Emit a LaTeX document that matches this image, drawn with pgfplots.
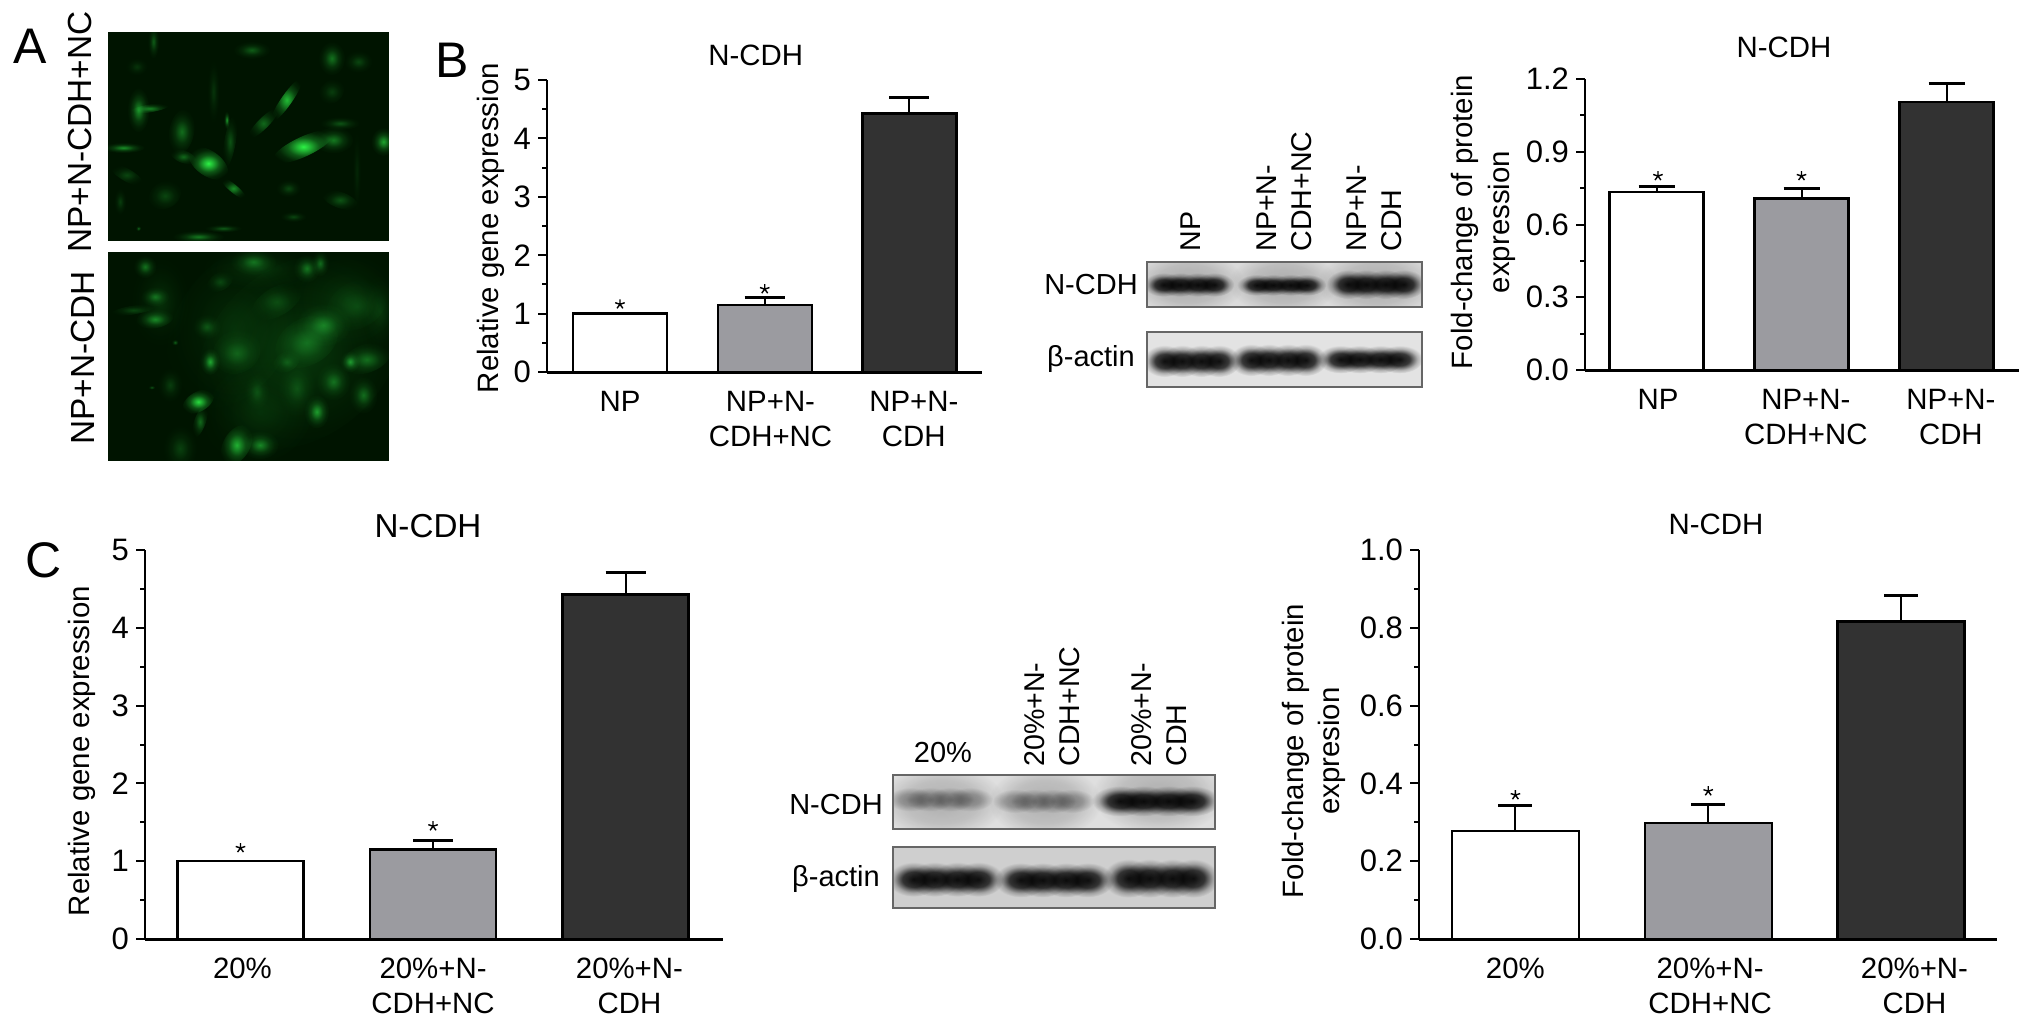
\documentclass[border=0pt]{standalone}
\usepackage{pgfplots}
\pgfplotsset{compat=1.18}
\usepackage{fontspec}
\setmainfont{Liberation Sans}
\definecolor{glow}{RGB}{45,240,70}
\definecolor{midgray}{RGB}{155,155,160}
\definecolor{darkbar}{RGB}{50,50,50}
\definecolor{imgbg}{RGB}{0,20,0}
\definecolor{gcol}{RGB}{45,240,70}
\pgfdeclareradialshading[gcol]{soft}{\pgfpoint{0bp}{0bp}}{color(0bp)=(gcol);color(5bp)=(gcol!72!black);color(12bp)=(gcol!30!black);color(19bp)=(gcol!8!black);color(25bp)=(black);color(50bp)=(black)}
\pgfdeclareradialshading{bandsoft}{\pgfpoint{0bp}{0bp}}{color(0bp)=(black!92!white);color(11bp)=(black!75!white);color(19bp)=(black!22!white);color(25bp)=(white);color(50bp)=(white)}
\pgfdeclareradialshading{bandlight}{\pgfpoint{0bp}{0bp}}{color(0bp)=(black!32!white);color(12bp)=(black!24!white);color(25bp)=(white);color(50bp)=(white)}
\pgfdeclareradialshading{haze}{\pgfpoint{0bp}{0bp}}{color(0bp)=(black!22!white);color(15bp)=(black!14!white);color(25bp)=(white);color(50bp)=(white)}
% #1 x, #2 y, #3 rx, #4 ry, #5 angle, #6 brightness
\newcommand{\gb}[6]{\colorlet{gcol}{glow!#6!black}\shade[shading=soft,blend mode=screen,shift={(#1,#2)},rotate=#5] (0,0) ellipse [x radius={#3*1.35},y radius={#4*1.35}];}
% #1 shading, #2 x, #3 y, #4 rx, #5 ry
\newcommand{\bb}[5]{\shade[shading=#1,blend mode=multiply,shift={(#2,#3)}] (0,0) ellipse [x radius=#4,y radius=#5];}
% #1 shading, #2 x0, #3 x1, #4 y, #5 ry
\newcommand{\band}[5]{\foreach \t in {0.16,0.38,0.62,0.84}{\pgfmathsetmacro{\xc}{#2+\t*(#3-#2)}\pgfmathsetmacro{\rx}{0.27*(#3-#2)}\bb{#1}{\xc}{#4}{\rx}{#5}}}
\pgfplotsset{
  panel/.style={
    scale only axis, anchor=south west,
    axis x line=bottom, axis y line=left,
    x axis line style={-,line width=1.5pt},
    y axis line style={-,line width=1pt},
    ymin=0, tick align=outside,
    xtick style={draw=none},
    ytick style={line width=1pt,black},
    minor y tick num=1,
    /pgf/number format/assume math mode=true,
    scaled y ticks=false,
    every axis title shift=0pt,
    yticklabel style={font=\fontsize{15.5}{18}\selectfont},
    xticklabel style={font=\fontsize{14.7}{17.5}\selectfont,align=center,inner sep=0pt,yshift=-5pt},
    title style={font=\fontsize{14.7}{17.5}\selectfont,anchor=center},
    ylabel style={font=\fontsize{14.7}{18.5}\selectfont,anchor=center,align=center},
    major tick length=4.5pt, minor tick length=2.5pt,
  },
  vb/.style={ybar,bar shift=0pt,draw=black,line width=1.2pt},
  err/.style={error bars/.cd,y dir=plus,y explicit,error mark=|,error bar style={line width=1pt,black},
    error mark options={line width=1.5pt,mark size=#1,black}},
  stars/.style={only marks,mark=star,mark size=2.5pt,mark options={black,line width=.7pt}},
}
\begin{document}
\begin{tikzpicture}
\path[use as bounding box] (0,0) rectangle (1016pt,-512.5pt);
\begin{scope}[x=0.5pt,y=-0.5pt]
% panel A images
\fill[imgbg] (108,32) rectangle (389,241);
\begin{scope}
\clip (108.6,32.6) rectangle (388.4,240.4);
\begin{scope}[shift={(100,25)},x=0.16667pt,y=-0.16667pt]
\gb{610}{365}{75}{22}{25}{100}\gb{325}{415}{50}{28}{-35}{100}\gb{560}{225}{60}{12}{55}{75}
\gb{115}{255}{25}{50}{0}{55}\gb{150}{250}{45}{9}{10}{50}\gb{245}{320}{28}{50}{-10}{40}
\gb{70}{368}{48}{12}{0}{55}\gb{380}{285}{7}{20}{0}{60}\gb{400}{490}{38}{9}{-40}{55}
\gb{490}{295}{48}{12}{45}{38}\gb{700}{345}{45}{30}{0}{45}\gb{720}{295}{45}{15}{0}{28}
\gb{850}{350}{28}{32}{0}{65}\gb{695}{100}{30}{38}{0}{42}\gb{455}{75}{42}{20}{0}{32}
\gb{775}{110}{32}{25}{0}{22}\gb{160}{50}{13}{38}{0}{32}\gb{295}{635}{58}{14}{0}{45}
\gb{370}{610}{42}{9}{0}{32}\gb{250}{395}{30}{14}{-20}{38}\gb{390}{350}{13}{60}{-10}{28}
\gb{720}{525}{42}{18}{-20}{28}\gb{565}{490}{28}{20}{0}{22}\gb{195}{510}{38}{30}{30}{22}
\gb{80}{450}{42}{14}{-30}{22}\gb{580}{575}{30}{12}{0}{22}\gb{695}{200}{30}{25}{40}{18}
\gb{340}{200}{14}{70}{0}{14}\gb{110}{125}{25}{20}{0}{14}\gb{60}{530}{14}{30}{0}{18}
\gb{115}{610}{6}{6}{0}{40}\gb{770}{440}{10}{90}{0}{8}
\end{scope}
\end{scope}
\fill[imgbg] (108,252) rectangle (389,461);
\begin{scope}
\clip (108.6,252.6) rectangle (388.4,460.4);
\begin{scope}[shift={(100,245)},x=0.16667pt,y=-0.16667pt]
% broad diffuse glow along the diagonal
\gb{600}{320}{250}{190}{40}{16}\gb{400}{250}{130}{190}{-30}{10}\gb{480}{500}{130}{110}{40}{10}
\gb{740}{150}{120}{110}{30}{10}\gb{480}{70}{130}{55}{0}{12}\gb{180}{170}{65}{100}{0}{12}
\gb{295}{470}{38}{22}{30}{90}\gb{330}{350}{22}{30}{0}{65}\gb{410}{600}{30}{48}{-30}{70}
\gb{480}{600}{42}{32}{0}{50}\gb{650}{500}{28}{38}{0}{60}\gb{750}{350}{22}{24}{0}{55}
\gb{670}{240}{62}{48}{0}{42}\gb{620}{290}{75}{52}{30}{32}\gb{800}{340}{55}{32}{20}{38}
\gb{165}{220}{42}{22}{10}{50}\gb{165}{155}{32}{22}{0}{38}\gb{135}{65}{26}{26}{0}{42}
\gb{620}{70}{30}{32}{0}{42}\gb{660}{55}{20}{30}{0}{38}\gb{460}{50}{52}{30}{0}{38}
\gb{790}{450}{32}{42}{0}{38}\gb{700}{410}{38}{42}{0}{38}\gb{410}{320}{55}{48}{30}{28}
\gb{320}{245}{32}{28}{0}{26}\gb{530}{170}{62}{32}{30}{20}\gb{360}{110}{32}{20}{30}{20}
\gb{770}{180}{72}{52}{30}{16}\gb{300}{530}{13}{38}{-20}{38}\gb{240}{610}{38}{52}{0}{20}
\gb{560}{350}{32}{22}{30}{22}\gb{470}{440}{28}{42}{0}{20}\gb{210}{420}{28}{38}{0}{18}
\gb{225}{292}{8}{7}{0}{35}\gb{155}{427}{8}{5}{0}{30}\gb{100}{195}{52}{10}{10}{22}
\gb{590}{430}{42}{62}{0}{20}\gb{840}{200}{42}{82}{0}{12}
\end{scope}
\end{scope}
% blots B
\begin{scope}
\clip (1147,262) rectangle (1422,307);
\fill[gray!28!white] (1147,262) rectangle (1422,307);
\begin{scope}[shift={(1140,250)},x=0.16667pt,y=-0.16667pt]
\bb{haze}{145}{100}{170}{95}\bb{haze}{430}{100}{165}{95}\bb{haze}{710}{100}{180}{100}
\band{bandsoft}{35}{258}{104}{36}
\band{bandsoft}{315}{535}{105}{32}
\band{bandsoft}{585}{830}{103}{44}
\end{scope}
\end{scope}
\draw[gray!80!black,line width=1pt] (1147,262) rectangle (1422,307);
\begin{scope}
\clip (1147,332) rectangle (1422,387);
\fill[gray!22!white] (1147,332) rectangle (1422,387);
\begin{scope}[shift={(1140,250)},x=0.16667pt,y=-0.16667pt]
\band{bandsoft}{35}{275}{333}{48}
\band{bandsoft}{295}{535}{330}{48}
\band{bandsoft}{560}{820}{328}{42}
\end{scope}
\end{scope}
\draw[gray!80!black,line width=1pt] (1147,332) rectangle (1422,387);
% blots C
\begin{scope}
\clip (893,775) rectangle (1215,829);
\fill[gray!25!white] (893,775) rectangle (1215,829);
\begin{scope}[shift={(885,765)},x=0.16667pt,y=-0.16667pt]
\bb{haze}{170}{110}{190}{110}\bb{haze}{480}{110}{170}{110}\bb{haze}{820}{90}{200}{120}
\band{bandlight}{35}{295}{103}{36}
\band{bandlight}{350}{600}{108}{36}
\band{bandsoft}{655}{970}{108}{46}
\end{scope}
\end{scope}
\draw[gray!80!black,line width=1pt] (893,775) rectangle (1215,829);
\begin{scope}
\clip (893,847) rectangle (1215,908);
\fill[gray!38!white] (893,847) rectangle (1215,908);
\begin{scope}[shift={(885,765)},x=0.16667pt,y=-0.16667pt]
\band{bandsoft}{40}{325}{343}{52}
\band{bandsoft}{360}{655}{345}{52}
\band{bandsoft}{685}{970}{340}{58}
\end{scope}
\end{scope}
\draw[gray!80!black,line width=1pt] (893,847) rectangle (1215,908);
% text
\node[font=\fontsize{25}{30}\selectfont,inner sep=0pt] at (30,46) {A};
\node[font=\fontsize{25}{30}\selectfont,inner sep=0pt] at (452,60) {B};
\node[font=\fontsize{25}{30}\selectfont,inner sep=0pt] at (44,560) {C};
\node[font=\fontsize{16.7}{20}\selectfont,inner sep=0pt,rotate=90] at (80,132) {NP+N-CDH+NC};
\node[font=\fontsize{16.7}{20}\selectfont,inner sep=0pt,rotate=90] at (83,358) {NP+N-CDH};
\tikzset{blot/.style={font=\fontsize{14.3}{17.5}\selectfont,inner sep=0pt,rotate=90,anchor=west,align=left}}
\node[blot] at (1191,252) {NP};
\node[blot] at (1284.5,252) {NP+N-\\CDH+NC};
\node[blot] at (1374,252) {NP+N-\\CDH};
\node[blot] at (1052,767) {20\%+N-\\CDH+NC};
\node[blot] at (1159,767) {20\%+N-\\CDH};
\tikzset{lab/.style={font=\fontsize{14.5}{17.5}\selectfont,inner sep=0pt}}
\node[lab] at (1091,285) {N-CDH};
\node[lab] at (1091,359) {β-actin};
\node[lab] at (836,804) {N-CDH};
\node[lab] at (836,879) {β-actin};
\node[lab] at (943,752) {20\%};
\end{scope}
% B1
\begin{axis}[panel,at={(273.5pt,-186pt)},width=217.5pt,height=146pt,
  xmin=-0.504,xmax=2.501,ymax=5,
  xtick={0,1.04,2.03},xticklabels={NP,{NP+N-\\CDH+NC},{NP+N-\\CDH}},
  ytick={0,1,2,3,4,5},
  title={N-CDH},title style={at={(0.48,1.0856)}},
  ylabel={Relative gene expression},ylabel style={at={(axis description cs:-0.1287,0.493)}}]
\addplot[vb,bar width=47pt,fill=white] coordinates {(0,1.0)};
\addplot[vb,bar width=47pt,fill=midgray,err=10pt] coordinates {(1,1.15) +- (0,0.13)};
\addplot[vb,bar width=47pt,fill=darkbar,err=10pt] coordinates {(2,4.43) +- (0,0.27)};
\addplot[stars] coordinates {(0,1.16) (1,1.42)};
\end{axis}
% B2
\begin{axis}[panel,at={(792.5pt,-185pt)},width=217pt,height=145.5pt,
  xmin=-0.493,xmax=2.5,ymax=1.2,
  xtick={0.01,1.03,2.03},xticklabels={NP,{NP+N-\\CDH+NC},{NP+N-\\CDH}},
  ytick={0,0.3,0.6,0.9,1.2},
  yticklabel style={/pgf/number format/fixed,/pgf/number format/fixed zerofill,/pgf/number format/precision=1},
  title={N-CDH},title style={at={(0.4585,1.110)}},
  ylabel={Fold-change of protein\\expression},ylabel style={at={(axis description cs:-0.235,0.5086)}}]
\addplot[vb,bar width=47pt,fill=white,err=9pt] coordinates {(0,0.734) +- (0,0.021)};
\addplot[vb,bar width=47pt,fill=midgray,err=9pt] coordinates {(1,0.708) +- (0,0.042)};
\addplot[vb,bar width=47pt,fill=darkbar,err=9pt] coordinates {(2,1.105) +- (0,0.075)};
\addplot[stars] coordinates {(0.01,0.80) (1,0.80)};
\end{axis}
% C1
\begin{axis}[panel,at={(72.5pt,-469.5pt)},width=289pt,height=194.5pt,
  xmin=-0.496,xmax=2.506,ymax=5,
  xtick={0.01,1,2.02},xticklabels={20\%,{20\%+N-\\CDH+NC},{20\%+N-\\CDH}},
  ytick={0,1,2,3,4,5},
  title={N-CDH},title style={at={(0.4896,1.0617)},font=\fontsize{16.6}{20}\selectfont},
  ylabel={Relative gene expression},ylabel style={at={(axis description cs:-0.109,0.483)}}]
\addplot[vb,bar width=63pt,fill=white] coordinates {(0,1.0)};
\addplot[vb,bar width=63pt,fill=midgray,err=10pt] coordinates {(1,1.15) +- (0,0.11)};
\addplot[vb,bar width=63pt,fill=darkbar,err=10pt] coordinates {(2,4.43) +- (0,0.28)};
\addplot[stars] coordinates {(0,1.17) (1,1.45)};
\end{axis}
% C2
\begin{axis}[panel,at={(709.5pt,-469.5pt)},width=289pt,height=194.5pt,
  xmin=-0.5,xmax=2.498,ymax=1,
  xtick={0,1.01,2.07},xticklabels={20\%,{20\%+N-\\CDH+NC},{20\%+N-\\CDH}},
  ytick={0,0.2,0.4,0.6,0.8,1.0},
  yticklabel style={/pgf/number format/fixed,/pgf/number format/fixed zerofill,/pgf/number format/precision=1},
  title={N-CDH},title style={at={(0.5138,1.0668)}},
  ylabel={Fold-change of protein\\expresion},ylabel style={at={(axis description cs:-0.1817,0.483)},font=\fontsize{14.7}{18}\selectfont}]
\addplot[vb,bar width=63.5pt,fill=white,err=8.5pt] coordinates {(0,0.278) +- (0,0.064)};
\addplot[vb,bar width=63.5pt,fill=midgray,err=8.5pt] coordinates {(1,0.298) +- (0,0.048)};
\addplot[vb,bar width=63.5pt,fill=darkbar,err=8.5pt] coordinates {(2,0.816) +- (0,0.067)};
\addplot[stars] coordinates {(0,0.37) (1,0.38)};
\end{axis}
\end{tikzpicture}
\end{document}
